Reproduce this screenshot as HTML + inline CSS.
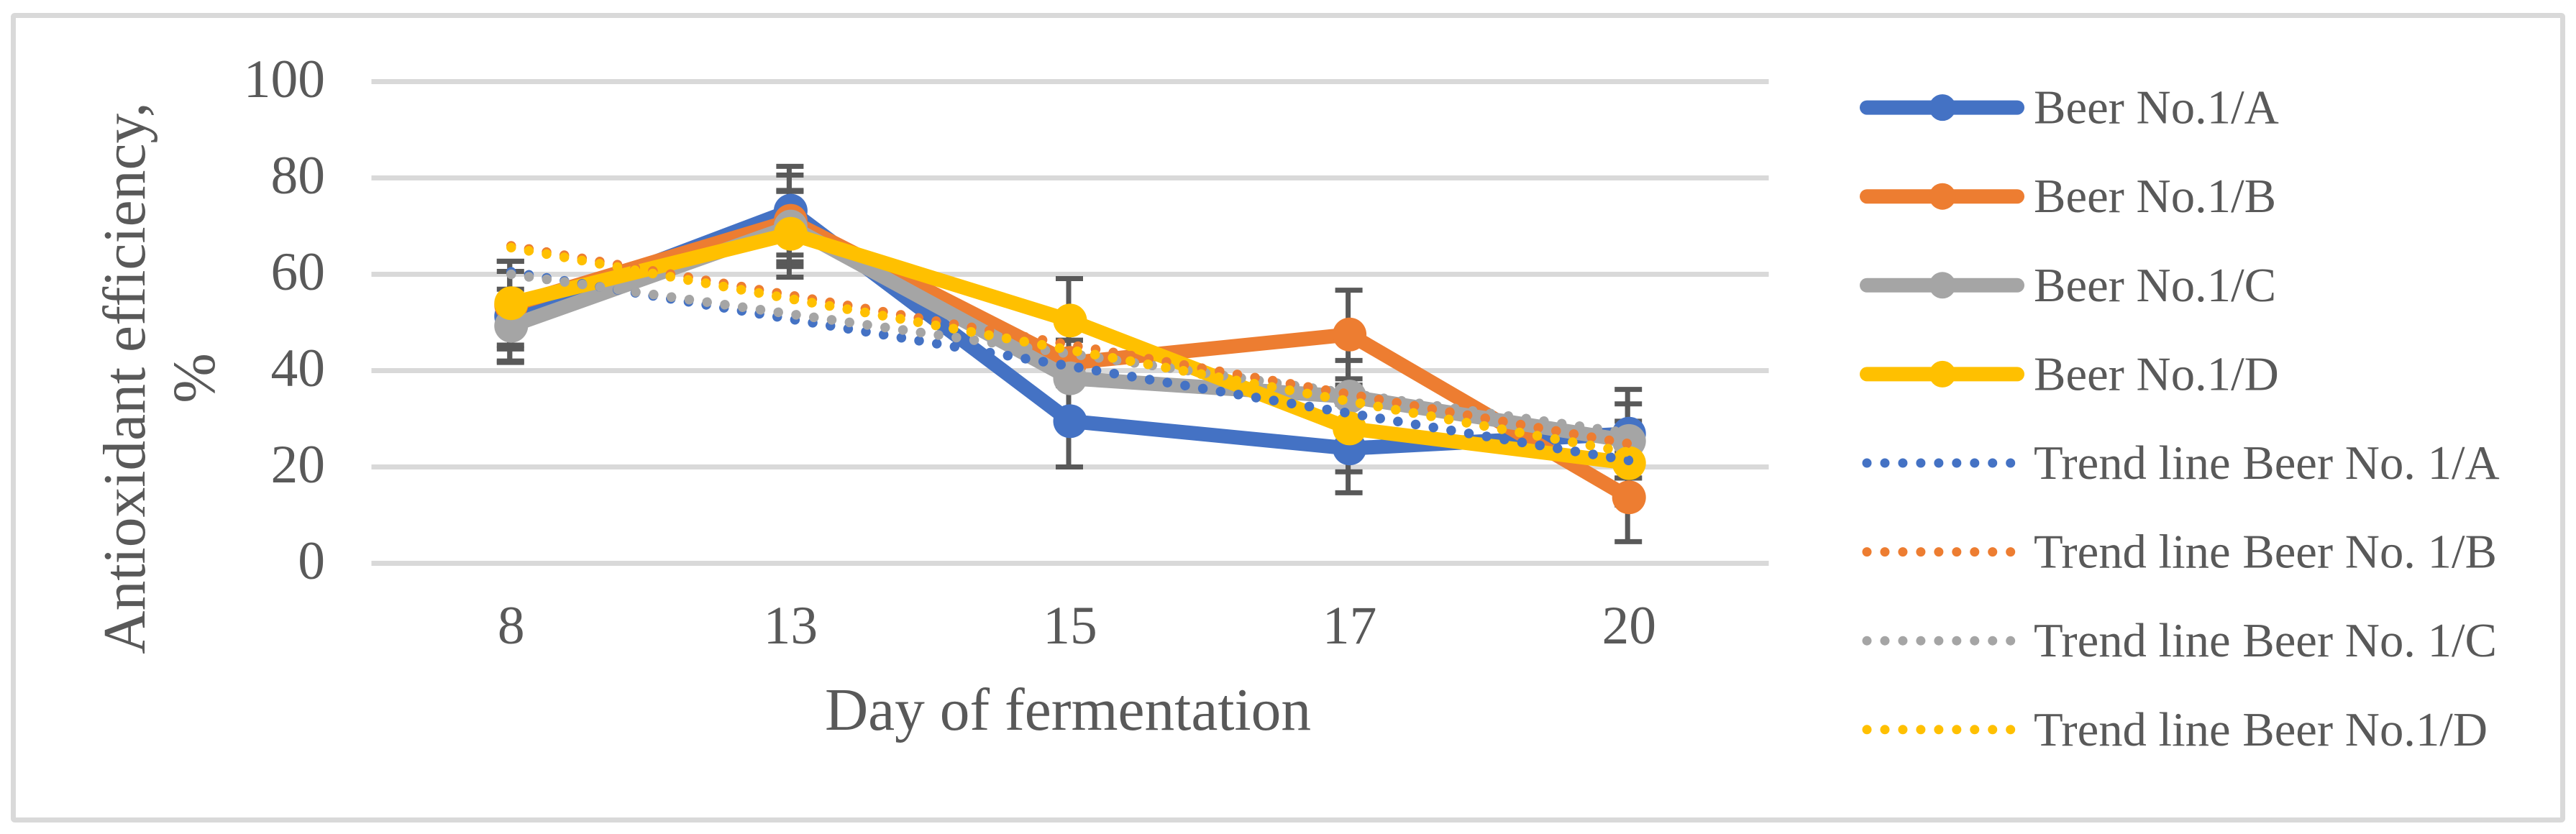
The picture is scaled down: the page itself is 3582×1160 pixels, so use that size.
<!DOCTYPE html>
<html lang="en">
<head>
<meta charset="utf-8">
<title>Antioxidant efficiency by day of fermentation</title>
<style>
html,body{margin:0;padding:0;background:#fff;width:3582px;height:1160px;overflow:hidden}
svg{display:block}
text{font-family:"Liberation Serif",serif;fill:#595959}
</style>
</head>
<body>
<svg id="chart" xmlns="http://www.w3.org/2000/svg" width="3582" height="1160" viewBox="0 0 3582 1160">
  <rect x="18.5" y="21.5" width="3545" height="1119" rx="2" fill="#fff" stroke="#D9D9D9" stroke-width="7"/>
  <text transform="translate(201,526) rotate(-90)" text-anchor="middle" font-size="83.5">Antioxidant efficiency,</text>
  <text transform="translate(298,526) rotate(-90)" text-anchor="middle" font-size="83.5">%</text>
  <text x="1485" y="1015" text-anchor="middle" font-size="83.4">Day of fermentation</text>
</svg>
<script>
const categories = ['8', '13', '15', '17', '20'];
const yTicks = [0, 20, 40, 60, 80, 100];
const seriesNames = ['Beer No.1/A', 'Beer No.1/B', 'Beer No.1/C', 'Beer No.1/D'];
const trendNames = ['Trend line Beer No. 1/A', 'Trend line Beer No. 1/B', 'Trend line Beer No. 1/C', 'Trend line Beer No.1/D'];
const beerA = [51.3, 73.2, 29.5, 23.85, 26.9];
const beerB = [53.6, 71.1, 41.6, 47.5, 13.7];
const beerC = [49.3, 69.9, 38.4, 34.6, 25.4];
const beerD = [54.0, 68.4, 50.4, 28.0, 20.8];
const errorA = [9.3, 9.2, 9.5, 9.2, 9.2];
const errorB = [9.1, 9.5, 4.7, 9.2, 9.2];
const errorC = [7.6, 7.3, 7.9, 7.5, 7.7];
const errorD = [8.7, 9.0, 8.7, 9.0, 8.7];
const trendStart = [60.5, 65.9, 60.0, 65.55];
const trendEnd = [21.35, 24.8, 27.0, 23.0];
const colors = ['#4472C4', '#ED7D31', '#A5A5A5', '#FFC000'];
const seriesKeys = ['a', 'b', 'c', 'd'];

const allValues = [beerA, beerB, beerC, beerD];
const allErrors = [errorA, errorB, errorC, errorD];
const svg = document.getElementById('chart');
const NS = 'http://www.w3.org/2000/svg';

function x(i) { return 516.5 + (i + 0.5) * (1943 / categories.length); }
function y(v) { return 783.5 - v * 6.7; }
function make(tag, attrs, parent) {
  const node = document.createElementNS(NS, tag);
  for (const k in attrs) node.setAttribute(k, attrs[k]);
  (parent || svg).appendChild(node);
  return node;
}

// gridlines and y tick labels
yTicks.forEach(function (t) {
  const grid = make('line', { x1: 516.5, x2: 2459.5, y1: y(t), y2: y(t), stroke: '#D9D9D9', 'stroke-width': 7 });
  
  
  const label = make('text', { x: 452, y: y(t) + 21.5, 'text-anchor': 'end', 'font-size': 75.5 });
  label.textContent = t;
  
  
});

// x tick labels
categories.forEach(function (c, i) {
  const label = make('text', { x: x(i), y: 895, 'text-anchor': 'middle', 'font-size': 75.5 });
  label.textContent = c;
  
  
});

// error bars
allValues.forEach(function (vals, s) {
  vals.forEach(function (v, i) {
    const e = allErrors[s][i];
    const cx = x(i) - 1;
    const g = make('g', { stroke: '#595959', 'stroke-width': 7, fill: 'none' });
    
    
    make('line', { x1: cx - 1, x2: cx - 1, y1: y(v + e), y2: y(v - e) }, g);
    make('line', { x1: cx - 19, x2: cx + 19, y1: y(v + e), y2: y(v + e) }, g);
    make('line', { x1: cx - 19, x2: cx + 19, y1: y(v - e), y2: y(v - e) }, g);
  });
});

// series lines and markers
allValues.forEach(function (vals, s) {
  const g = make('g', {});
  
  
  const pts = vals.map(function (v, i) { return x(i) + ',' + y(v); }).join(' ');
  const line = make('polyline', { points: pts, fill: 'none', stroke: colors[s], 'stroke-width': 20, 'stroke-linejoin': 'round', 'stroke-linecap': 'round' }, g);
  
  
  vals.forEach(function (v, i) {
    const dot = make('circle', { cx: x(i), cy: y(v), r: 23.5, fill: colors[s] }, g);
    
    
  });
});

// trend lines (blue, gray, orange, yellow paint order as in the reference)
[0, 2, 1, 3].forEach(function (s) {
  const last = categories.length - 1;
  const trend = make('line', { x1: x(0), y1: y(trendStart[s]), x2: x(last), y2: y(trendEnd[s]), stroke: colors[s], 'stroke-width': 13.5, 'stroke-linecap': 'round', 'stroke-dasharray': '0.01 25' });
  
  
});

// legend
seriesNames.forEach(function (name, s) {
  const ly = 149.6 + s * 123.6;
  const g = make('g', {});
  
  
  make('line', { x1: 2596, x2: 2805, y1: ly, y2: ly, stroke: colors[s], 'stroke-width': 20, 'stroke-linecap': 'round' }, g);
  make('circle', { cx: 2701, cy: ly, r: 18.5, fill: colors[s] }, g);
  const t = make('text', { x: 2828, y: ly + 22, 'font-size': 66.7 }, g);
  t.textContent = name;
});
trendNames.forEach(function (name, s) {
  const ly = 149.6 + (s + 4) * 123.6;
  const g = make('g', {});
  
  
  make('line', { x1: 2596, x2: 2796, y1: ly, y2: ly, stroke: colors[s], 'stroke-width': 13, 'stroke-linecap': 'round', 'stroke-dasharray': '0.01 24.95' }, g);
  const t = make('text', { x: 2828, y: ly + 22, 'font-size': 66.7 }, g);
  t.textContent = name;
});
</script>
</body>
</html>
